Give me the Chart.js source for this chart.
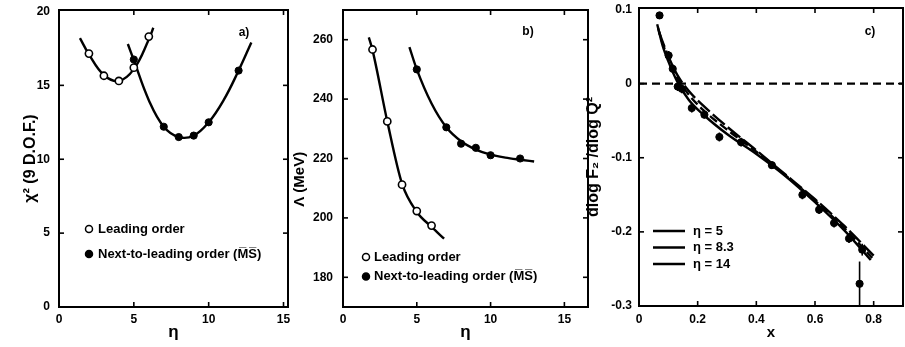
<!DOCTYPE html>
<html><head><meta charset="utf-8">
<script src="https://cdn.jsdelivr.net/npm/chart.js@4.4.1/dist/chart.umd.min.js"></script>
<style>
html,body{margin:0;padding:0;background:#fff;}
#wrap{position:relative;width:905px;height:347px;overflow:hidden;background:#fff;}
canvas{position:absolute;top:0;}
</style></head><body>
<div id="wrap">
<canvas id="ca" width="295" height="347" style="left:0px;width:295px;height:347px"></canvas>
<canvas id="cb" width="305" height="347" style="left:290px;width:305px;height:347px"></canvas>
<canvas id="cc" width="325" height="347" style="left:580px;width:325px;height:347px"></canvas>
</div>
<script>
// ---------- Panel a: chi^2 vs eta ----------
const etaLO_a = [2, 3, 4, 5, 6];
const chi2LO = [17.15, 15.65, 15.3, 16.2, 18.3];
const etaNLO_a = [5, 7, 8, 9, 10, 12];
const chi2NLO = [16.75, 12.2, 11.5, 11.6, 12.5, 16.0];
const fitLO_a_eta = [1.4, 2, 3, 4, 5, 6, 6.3];
const fitLO_a_chi2 = [18.2, 17.1, 15.7, 15.3, 16.1, 18.1, 18.9];
const fitNLO_a_eta = [4.6, 5, 6, 7, 8, 9, 10, 11, 12, 12.85];
const fitNLO_a_chi2 = [17.8, 16.7, 14.0, 12.2, 11.5, 11.6, 12.5, 14.0, 16.0, 17.9];
const ticksX_a = [0, 5, 10, 15];
const ticksY_a = [0, 5, 10, 15, 20];

// ---------- Panel b: Lambda vs eta ----------
const etaLO_b = [2, 3, 4, 5, 6];
const lambdaLO = [256.7, 232.5, 211.2, 202.3, 197.4];
const etaNLO_b = [5, 7, 8, 9, 10, 12];
const lambdaNLO = [250, 230.5, 225, 223.6, 221.1, 220];
const fitLO_b_eta = [1.75, 2, 3, 4, 5, 6, 6.85];
const fitLO_b_lambda = [260.8, 256.5, 232.5, 211.5, 202, 197, 193];
const fitNLO_b_eta = [4.5, 5, 6, 7, 8, 9, 10, 11, 12, 12.95];
const fitNLO_b_lambda = [257.5, 250, 238.5, 230.5, 225.8, 223, 221.3, 220.3, 219.6, 219];
const ticksX_b = [0, 5, 10, 15];
const ticksY_b = [180, 200, 220, 240, 260];

// ---------- Panel c: dlogF2/dlogQ2 vs x ----------
const xData = [0.070, 0.101, 0.115, 0.132, 0.146, 0.180, 0.223, 0.274, 0.348, 0.453, 0.557, 0.614, 0.665, 0.716, 0.752, 0.761];
const slopeData = [0.092, 0.038, 0.020, -0.004, -0.007, -0.033, -0.042, -0.072, -0.079, -0.110, -0.150, -0.170, -0.188, -0.209, -0.270, -0.224];
const slopeErr = [0.004, 0.006, 0.006, 0.006, 0.006, 0.006, 0.005, 0.006, 0.006, 0.005, 0.006, 0.006, 0.006, 0.006, 0.030, 0.008];
const curveX_5 = [0.062, 0.08, 0.10, 0.13, 0.17, 0.22, 0.30, 0.40, 0.50, 0.60, 0.70, 0.79];
const curveY_5 = [0.080, 0.052, 0.030, 0.003, -0.022, -0.042, -0.068, -0.095, -0.125, -0.160, -0.198, -0.238];
const curveX_83 = [0.065, 0.08, 0.10, 0.13, 0.17, 0.22, 0.30, 0.40, 0.50, 0.60, 0.70, 0.795];
const curveY_83 = [0.075, 0.055, 0.034, 0.008, -0.015, -0.036, -0.062, -0.092, -0.124, -0.158, -0.195, -0.235];
const curveX_14 = [0.068, 0.08, 0.10, 0.13, 0.17, 0.22, 0.30, 0.40, 0.50, 0.60, 0.70, 0.80];
const curveY_14 = [0.070, 0.057, 0.037, 0.012, -0.010, -0.030, -0.058, -0.090, -0.123, -0.156, -0.192, -0.232];
const zeroLineX = [0, 0.9];
const zeroLineY = [0, 0];
const ticksX_c = [0, 0.2, 0.4, 0.6, 0.8];
const ticksY_c = [-0.3, -0.2, -0.1, 0, 0.1];

const legendLabelsAB = ['Leading order', 'Next-to-leading order (M\u0305S\u0305)'];
const legendLabelsC = ['\u03b7 = 5', '\u03b7 = 8.3', '\u03b7 = 14'];

const FAM = "'Liberation Sans', Arial, sans-serif";
const pts = (xs, ys) => xs.map((v, i) => ({x: v, y: ys[i]}));

const deco = {
  id: 'deco',
  beforeDatasetsDraw(chart, args, o) {
    const {ctx, scales: {x, y}} = chart;
    ctx.save();
    ctx.strokeStyle = '#000'; ctx.lineWidth = 1.6;
    chart.data.datasets.forEach(ds => {
      if (!ds.errors) return;
      ds.data.forEach((p, j) => {
        const e = ds.errors[j];
        const px = x.getPixelForValue(p.x);
        ctx.beginPath();
        ctx.moveTo(px, y.getPixelForValue(p.y - e));
        ctx.lineTo(px, y.getPixelForValue(p.y + e));
        ctx.stroke();
      });
    });
    ctx.restore();
  },
  afterDatasetsDraw(chart, args, o) {
    const {ctx, chartArea: a, scales: {x, y}} = chart;
    ctx.save();
    ctx.strokeStyle = '#000';
    ctx.lineWidth = 2;
    ctx.strokeRect(a.left, a.top, a.right - a.left, a.bottom - a.top);
    const L = 5;
    ctx.lineWidth = 1.6;
    const seg = (x1, y1, x2, y2) => { ctx.beginPath(); ctx.moveTo(x1, y1); ctx.lineTo(x2, y2); ctx.stroke(); };
    x.ticks.forEach(t => {
      const px = x.getPixelForValue(t.value);
      if (px <= a.left + 2 || px >= a.right - 2) return;
      seg(px, a.bottom, px, a.bottom - L); seg(px, a.top, px, a.top + L);
    });
    y.ticks.forEach(t => {
      const py = y.getPixelForValue(t.value);
      if (py <= a.top + 2 || py >= a.bottom - 2) return;
      seg(a.left, py, a.left + L, py); seg(a.right, py, a.right - L, py);
    });
    ctx.fillStyle = '#000';
    ctx.font = 'bold 12px ' + FAM;
    ctx.textAlign = 'center'; ctx.textBaseline = 'middle';
    ctx.fillText(o.tag, o.tagX, o.tagY);
    // legend
    const lg = o.legend;
    ctx.font = 'bold 13px ' + FAM;
    ctx.textAlign = 'left';
    lg.items.forEach((idx, k) => {
      const ds = chart.data.datasets[idx];
      const yy = lg.y + k * lg.dy;
      if (lg.kind === 'point') {
        ctx.beginPath();
        ctx.arc(lg.x, yy, 3.5, 0, Math.PI * 2);
        ctx.fillStyle = ds.pointBackgroundColor; ctx.fill();
        ctx.lineWidth = 1.5; ctx.strokeStyle = '#000'; ctx.stroke();
        ctx.fillStyle = '#000';
        ctx.fillText(ds.label, lg.x + lg.tx, yy);
      } else {
        ctx.lineWidth = 2.5; ctx.strokeStyle = '#000';
        seg(lg.x, yy, lg.x + lg.len, yy);
        ctx.fillStyle = '#000';
        ctx.fillText(ds.label, lg.x + lg.len + lg.tx, yy);
      }
    });
    ctx.restore();
  }
};

function axis(o) {
  return {
    type: 'linear', min: o.min, max: o.max,
    grid: {display: false, drawTicks: false},
    border: {display: false},
    afterBuildTicks: s => { s.ticks = o.ticks.map(v => ({value: v})); },
    afterFit: s => {
      if (o.width) s.width = o.width;
      if (o.height) s.height = o.height;
      s.paddingTop = 0; s.paddingBottom = 0; s.paddingLeft = 0; s.paddingRight = 0;
    },
    ticks: {padding: o.pad, color: '#000', font: {family: FAM, size: 12, weight: 'bold'},
            callback: o.fmt || (v => String(v))},
    title: {display: true, text: o.title, color: '#000',
            font: {family: FAM, size: o.tsize || 15, weight: 'bold'}, padding: o.tpad}
  };
}

function makeChart(id, datasets, sx, sy, layoutPad, decoOpts) {
  return new Chart(document.getElementById(id), {
    type: 'scatter',
    data: {datasets},
    options: {
      responsive: false, animation: false, devicePixelRatio: 1,
      layout: {padding: layoutPad, autoPadding: false},
      plugins: {legend: {display: false}, tooltip: {enabled: false}, deco: decoOpts},
      scales: {x: axis(sx), y: axis(sy)}
    },
    plugins: [deco]
  });
}

const openPt = {pointRadius: 3.6, pointBackgroundColor: '#fff', pointBorderColor: '#000', pointBorderWidth: 1.6, showLine: false};
const fullPt = {pointRadius: 3.6, pointBackgroundColor: '#000', pointBorderColor: '#000', pointBorderWidth: 1, showLine: false};
const curve = {showLine: true, pointRadius: 0, borderColor: '#000', borderWidth: 2.4, fill: false};

// Panel a
makeChart('ca', [
  Object.assign({label: legendLabelsAB[0], data: pts(etaLO_a, chi2LO)}, openPt),
  Object.assign({label: legendLabelsAB[1], data: pts(etaNLO_a, chi2NLO)}, fullPt),
  Object.assign({label: 'LO fit', data: pts(fitLO_a_eta, fitLO_a_chi2), tension: 0.4}, curve),
  Object.assign({label: 'NLO fit', data: pts(fitNLO_a_eta, fitNLO_a_chi2), tension: 0.4}, curve)
], {min: 0, max: 15.3, ticks: ticksX_a, height: 40, pad: 5, title: '\u03b7', tsize: 17, tpad: {top: 0, bottom: 4}},
   {min: 0, max: 20.1, ticks: ticksY_a, width: 59, pad: 9, title: '\u03c7\u00b2 (9 D.O.F.)', tsize: 16, tpad: {top: 21, bottom: 0}},
   {top: 10, right: 7, left: 0, bottom: 0},
   {tag: 'a)', tagX: 244, tagY: 33, legend: {kind: 'point', items: [0, 1], x: 89, y: 229, dy: 25, tx: 9}});

// Panel b
makeChart('cb', [
  Object.assign({label: legendLabelsAB[0], data: pts(etaLO_b, lambdaLO)}, openPt),
  Object.assign({label: legendLabelsAB[1], data: pts(etaNLO_b, lambdaNLO)}, fullPt),
  Object.assign({label: 'LO fit', data: pts(fitLO_b_eta, fitLO_b_lambda), cubicInterpolationMode: 'monotone'}, curve),
  Object.assign({label: 'NLO fit', data: pts(fitNLO_b_eta, fitNLO_b_lambda), cubicInterpolationMode: 'monotone'}, curve)
], {min: 0, max: 16.6, ticks: ticksX_b, height: 40, pad: 5, title: '\u03b7', tsize: 17, tpad: {top: 0, bottom: 4}},
   {min: 170, max: 270, ticks: ticksY_b, width: 53, pad: 10, title: '\u039b (MeV)          ', tpad: {top: 1, bottom: 0}},
   {top: 10, right: 7, left: 0, bottom: 0},
   {tag: 'b)', tagX: 238, tagY: 32, legend: {kind: 'point', items: [0, 1], x: 76, y: 257, dy: 19.5, tx: 8}});

// Panel c
makeChart('cc', [
  Object.assign({label: 'data', data: pts(xData, slopeData), errors: slopeErr}, fullPt),
  Object.assign({label: legendLabelsC[0], data: pts(curveX_5, curveY_5), cubicInterpolationMode: 'monotone'}, curve),
  Object.assign({label: legendLabelsC[1], data: pts(curveX_83, curveY_83), cubicInterpolationMode: 'monotone', borderDash: [9, 4], borderWidth: 1.6}, curve),
  Object.assign({label: legendLabelsC[2], data: pts(curveX_14, curveY_14), cubicInterpolationMode: 'monotone', borderDash: [16, 4], borderWidth: 1.6}, curve),
  Object.assign({label: 'zero', data: pts(zeroLineX, zeroLineY), borderDash: [8, 5], borderWidth: 1.6}, curve)
], {min: 0, max: 0.9, ticks: ticksX_c, height: 41, pad: 6, title: 'x', tsize: 15, tpad: {top: 0, bottom: 5},
    fmt: v => (v === 0 ? '0' : v.toFixed(1))},
   {min: -0.3, max: 0.102, ticks: ticksY_c, width: 59, pad: 7, title: 'dlog F\u2082 /dlog Q\u00b2', tsize: 16, tpad: {top: 4, bottom: 0},
    fmt: v => (Math.abs(v) < 1e-9 ? '0' : v.toFixed(1))},
   {top: 8, right: 2, left: 0, bottom: 0},
   {tag: 'c)', tagX: 290, tagY: 32, legend: {kind: 'line', items: [1, 2, 3], x: 73, y: 231, dy: 16.5, len: 32, tx: 8}});
</script>
</body></html>
